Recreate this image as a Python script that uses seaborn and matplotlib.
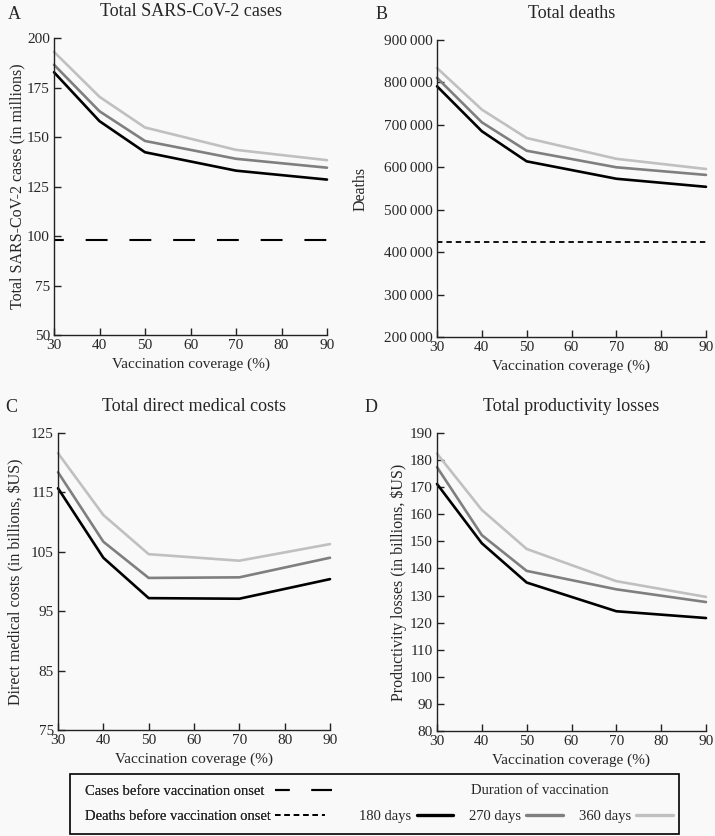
import numpy as np
import pandas as pd
import matplotlib
matplotlib.use("Agg")
import matplotlib.pyplot as plt
from matplotlib.patches import Rectangle
from matplotlib.ticker import FuncFormatter
import seaborn as sns

# vaccination coverage (%) and durations
coverage = [30, 40, 50, 70, 90]
durations = ["180 days", "270 days", "360 days"]

cases_180 = [182.7, 158.0, 142.3, 133.0, 128.5]
cases_270 = [186.5, 163.0, 148.0, 139.0, 134.5]
cases_360 = [193.0, 170.3, 154.8, 143.5, 138.3]

deaths_180 = [791000, 685000, 614000, 573000, 554000]
deaths_270 = [811000, 706000, 639000, 600000, 582000]
deaths_360 = [834000, 736000, 669000, 620000, 596000]

medical_180 = [115.7, 104.0, 97.2, 97.1, 100.4]
medical_270 = [118.4, 106.7, 100.6, 100.7, 104.0]
medical_360 = [121.6, 111.2, 104.6, 103.5, 106.3]

prod_180 = [171.2, 149.3, 134.8, 124.2, 121.7]
prod_270 = [177.4, 152.3, 139.1, 132.3, 127.6]
prod_360 = [182.4, 161.6, 147.2, 135.3, 129.5]

cases_before = 98
deaths_before = 425000

palette = {"180 days": "#000000", "270 days": "#7f7f7f", "360 days": "#c0c0c0"}


def long_df(s180, s270, s360):
    return pd.DataFrame({
        "coverage": coverage * 3,
        "value": s180 + s270 + s360,
        "duration": [d for d in durations for _ in coverage],
    })


sns.set_theme(style="ticks")
plt.rcParams["font.family"] = ["Liberation Serif", "DejaVu Serif"]
bg = "#f9f9f9"
plt.rcParams["figure.facecolor"] = bg
plt.rcParams["axes.facecolor"] = bg

fig = plt.figure(figsize=(7.15, 8.36), dpi=100)
W, H = 715, 836


def add_ax(l, t, r, b):
    return fig.add_axes([l / W, 1 - b / H, (r - l) / W, (b - t) / H])


axA = add_ax(54, 38, 327, 335)
axB = add_ax(437, 40, 706, 337)
axC = add_ax(58, 433, 330, 730)
axD = add_ax(437, 433, 706, 731)

panels = [
    (axA, long_df(cases_180, cases_270, cases_360), "Total SARS-CoV-2 cases",
     "Total SARS-CoV-2 cases (in millions)", (50, 200), np.arange(50, 201, 25), -0.106),
    (axB, long_df(deaths_180, deaths_270, deaths_360), "Total deaths",
     "Deaths", (200000, 900000), np.arange(200000, 900001, 100000), -0.255),
    (axC, long_df(medical_180, medical_270, medical_360), "Total direct medical costs",
     "Direct medical costs (in billions, $US)", (75, 125), np.arange(75, 126, 10), -0.125),
    (axD, long_df(prod_180, prod_270, prod_360), "Total productivity losses",
     "Productivity losses (in billions, $US)", (80, 190), np.arange(80, 191, 10), -0.11),
]

for ax, df, title, ylabel, ylim, yticks, lx in panels:
    sns.lineplot(data=df, x="coverage", y="value", hue="duration", palette=palette,
                 linewidth=1.9, ax=ax, legend=False, clip_on=False)
    ax.set_xlim(30, 90)
    ax.set_ylim(*ylim)
    ax.set_xticks(range(30, 91, 10))
    ax.set_yticks(yticks)
    ax.set_title(title, fontsize=13, pad=16)
    ax.set_xlabel("Vaccination coverage (%)", fontsize=11)
    ax.set_ylabel(ylabel, fontsize=11.5)
    ax.yaxis.set_label_coords(lx, 0.5)
    ax.tick_params(direction="in", length=5, width=1, labelsize=11, pad=3, color="#222222")
    for s in ["top", "right"]:
        ax.spines[s].set_visible(False)
    for s in ["left", "bottom"]:
        ax.spines[s].set_linewidth(1.0)
        ax.spines[s].set_color("#222222")

axB.yaxis.set_major_formatter(FuncFormatter(lambda v, p: f"{int(v):,}".replace(",", "\u2009")))

cases_line, = axA.plot(coverage, [cases_before] * len(coverage), color="black",
                       linewidth=1.5, linestyle=(5.8, (10.5, 10.5)),
                       label="Cases before vaccination onset")
deaths_line, = axB.plot(coverage, [deaths_before] * len(coverage), color="black",
                        linewidth=1.3, linestyle=(0, (3, 2.2)),
                        label="Deaths before vaccination onset")

for txt, x, y in [("A", 8, 19), ("B", 376, 19), ("C", 5, 412), ("D", 365, 412)]:
    fig.text(x / W, 1 - y / H, txt, fontsize=13, va="baseline")

# legend box
box_top, box_bot = 774, 834
fig.add_artist(Rectangle((70 / W, 1 - box_bot / H), (679 - 70) / W, (box_bot - box_top) / H,
                         transform=fig.transFigure, fill=False, edgecolor="black",
                         linewidth=1.2))

row1, row2 = 791, 816
lfs = 10.5
cases_handle = plt.Line2D([], [], color="black", linewidth=1.5, linestyle=(3.5, (10.5, 10.5)))
leg_cases = fig.legend(handles=[cases_handle], labels=[cases_line.get_label()],
                       loc="center left", bbox_to_anchor=(72 / W, 1 - row1 / H),
                       frameon=False, fontsize=lfs, markerfirst=False,
                       handlelength=3.9, handletextpad=0.75)
fig.add_artist(leg_cases)
leg_deaths = fig.legend(handles=[deaths_line], labels=[deaths_line.get_label()],
                        loc="center left", bbox_to_anchor=(72 / W, 1 - row2 / H),
                        frameon=False, fontsize=lfs, markerfirst=False,
                        handlelength=3.4, handletextpad=0.3)
fig.add_artist(leg_deaths)

fig.text(540 / W, 1 - row1 / H, "Duration of vaccination", fontsize=lfs,
         ha="center", va="center")
dur_handles = [plt.Line2D([], [], color=palette[d], linewidth=2.4) for d in durations]
leg_dur = fig.legend(handles=dur_handles, labels=durations, loc="center",
                     bbox_to_anchor=(516 / W, 1 - row2 / H), frameon=False, fontsize=lfs,
                     ncol=3, markerfirst=False, handlelength=2.5, handletextpad=0.35,
                     columnspacing=1.1)

fig.savefig("out.png", dpi=100, facecolor=bg)
